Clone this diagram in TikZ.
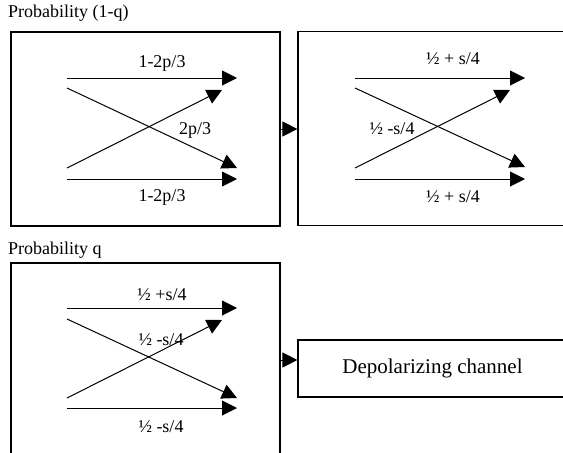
\documentclass[tikz,border=0pt]{standalone}
\usepackage{fontspec}
\setmainfont{Liberation Serif}
\usetikzlibrary{arrows.meta,positioning}

\begin{document}
\begin{tikzpicture}[x=1pt,y=-1pt,
    chanbox/.style={draw,line width=1.2pt,minimum width=269pt,minimum height=194pt,inner sep=0pt},
    flow/.style={line width=1pt,-{Triangle[length=15pt,width=15pt]}},
    weight/.style={font=\fontsize{18}{21}\selectfont,inner sep=0pt}]
        \clip (0,0) rectangle (563,453);

        % the three gates and the channel box
        \node[chanbox] (gateone) at (145.5,129) {};
        \node[chanbox] (gatetwo) at (432.5,128.5) {};
        \node[chanbox] (gatethree) at (145.5,360) {};
        \node[chanbox,minimum height=57pt,font=\fontsize{21}{25}\selectfont] (depol) at (432.5,368.5) {Depolarizing channel};

        \node[weight,anchor=west] (probone) at (8,13) {Probability (1-q)};
        \node[weight,anchor=west] (probq) at (8,250) {Probability q};

        % first gate
        \coordinate (oneTopL) at (67,78);   \coordinate (oneTopR) at (237,78);
        \coordinate (oneDownL) at (67,88);  \coordinate (oneDownR) at (237,168);
        \coordinate (oneUpL) at (67,168);   \coordinate (oneUpR) at (222,90);
        \coordinate (oneBotL) at (67,179);  \coordinate (oneBotR) at (237,179);
        \draw[flow] (oneTopL) -- (oneTopR);
        \draw[flow] (oneDownL) -- (oneDownR);
        \draw[flow] (oneUpL) -- (oneUpR);
        \draw[flow] (oneBotL) -- (oneBotR);
        \node[weight] (oneTopW) at (162,63) {1-2p/3};
        \node[weight] (oneMidW) at (195,130) {2p/3};
        \node[weight] (oneBotW) at (162,197) {1-2p/3};

        % second gate
        \coordinate (twoTopL) at (355,78);  \coordinate (twoTopR) at (525,78);
        \coordinate (twoDownL) at (355,88); \coordinate (twoDownR) at (525,167);
        \coordinate (twoUpL) at (355,168);  \coordinate (twoUpR) at (510,90);
        \coordinate (twoBotL) at (355,179); \coordinate (twoBotR) at (525,179);
        \draw[flow] (twoTopL) -- (twoTopR);
        \draw[flow] (twoDownL) -- (twoDownR);
        \draw[flow] (twoUpL) -- (twoUpR);
        \draw[flow] (twoBotL) -- (twoBotR);
        \node[weight] (twoTopW) at (453,59) {½ + s/4};
        \node[weight] (twoMidW) at (392,129) {½ -s/4};
        \node[weight] (twoBotW) at (453,197) {½ + s/4};

        % third gate
        \coordinate (threeTopL) at (67,308);  \coordinate (threeTopR) at (237,308);
        \coordinate (threeDownL) at (67,319); \coordinate (threeDownR) at (237,398);
        \coordinate (threeUpL) at (67,398);   \coordinate (threeUpR) at (222,320);
        \coordinate (threeBotL) at (67,408);  \coordinate (threeBotR) at (237,408);
        \draw[flow] (threeTopL) -- (threeTopR);
        \draw[flow] (threeDownL) -- (threeDownR);
        \draw[flow] (threeUpL) -- (threeUpR);
        \draw[flow] (threeBotL) -- (threeBotR);
        \node[weight] (threeTopW) at (162,295) {½ +s/4};
        \node[weight] (threeMidW) at (161,340) {½ -s/4};
        \node[weight] (threeBotW) at (161,427) {½ -s/4};

        % links between boxes
        \draw[flow] (gateone.east) -- (gatetwo.west |- gateone.east);
        \draw[flow] (gatethree.east) -- (depol.west |- gatethree.east);
      \end{tikzpicture}
\end{document}
